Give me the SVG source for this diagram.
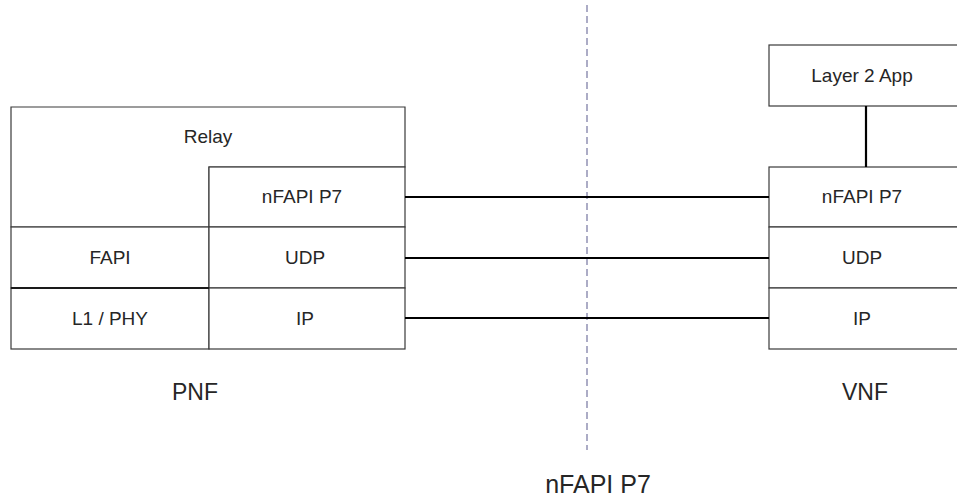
<svg xmlns="http://www.w3.org/2000/svg" width="957" height="498" viewBox="0 0 957 498">
<style>
.box{fill:#fff;stroke:#3a3a3a;stroke-width:1.2}
.lbl{font-family:"Liberation Sans",Arial,sans-serif;font-size:19px;fill:#262626;text-anchor:middle}
.cap{font-family:"Liberation Sans",Arial,sans-serif;font-size:23px;fill:#262626;text-anchor:middle}
.conn{stroke:#000;stroke-width:2.2;fill:none}
</style>
<rect width="957" height="498" fill="#fff"/>
<line x1="587" y1="5" x2="587" y2="450" stroke="#8080a8" stroke-width="1.3" stroke-dasharray="7,4"/>
<g id="relay"><polygon class="box" points="11,107 405,107 405,167 209,167 209,227 11,227"/><text class="lbl" x="208" y="143">Relay</text></g>
<g id="pnf-nfapi"><rect class="box" x="209" y="167" width="196" height="60"/><text class="lbl" x="302" y="203">nFAPI P7</text></g>
<g id="fapi"><rect class="box" x="11" y="227" width="198" height="61"/><text class="lbl" x="110" y="264">FAPI</text></g>
<g id="pnf-udp"><rect class="box" x="209" y="227" width="196" height="61"/><text class="lbl" x="305" y="264">UDP</text></g>
<g id="l1phy"><rect class="box" x="11" y="288" width="198" height="61"/><text class="lbl" x="110" y="325">L1 / PHY</text></g>
<g id="pnf-ip"><rect class="box" x="209" y="288" width="196" height="61"/><text class="lbl" x="305" y="325">IP</text></g>
<line x1="11" y1="288" x2="209" y2="288" stroke="#1a1a1a" stroke-width="2"/>
<g id="l2app"><rect class="box" x="769" y="45" width="200" height="61"/><text class="lbl" x="862" y="82">Layer 2 App</text></g>
<g id="vnf-nfapi"><rect class="box" x="769" y="167" width="200" height="60"/><text class="lbl" x="862" y="203">nFAPI P7</text></g>
<g id="vnf-udp"><rect class="box" x="769" y="227" width="200" height="61"/><text class="lbl" x="862" y="264">UDP</text></g>
<g id="vnf-ip"><rect class="box" x="769" y="288" width="200" height="61"/><text class="lbl" x="862" y="325">IP</text></g>
<g id="connectors">
<line class="conn" x1="405" y1="197" x2="769" y2="197"/>
<line class="conn" x1="405" y1="258" x2="769" y2="258"/>
<line class="conn" x1="405" y1="318" x2="769" y2="318"/>
<line class="conn" x1="866" y1="106" x2="866" y2="167"/>
</g>
<g id="pnf"><text class="cap" x="195" y="400">PNF</text></g>
<g id="vnf"><text class="cap" x="865" y="400">VNF</text></g>
<g id="iface"><text class="cap" x="598" y="493" style="font-size:25px">nFAPI P7</text></g>
</svg>
